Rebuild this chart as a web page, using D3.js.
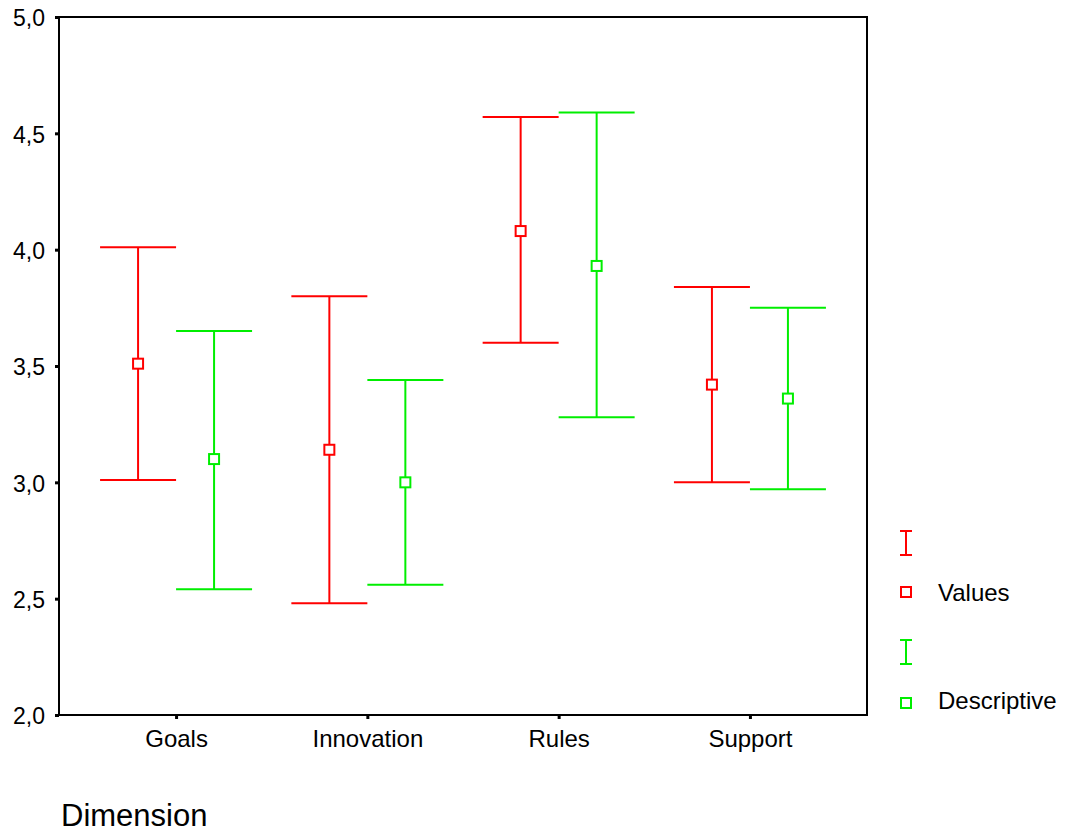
<!DOCTYPE html>
<html>
<head>
<meta charset="utf-8">
<script src="https://cdn.jsdelivr.net/npm/d3@7"></script>
<style>
  body { margin: 0; background: #fff; }
  text { font-family: "Liberation Sans", Arial, sans-serif; fill: #000; }
</style>
</head>
<body>
<svg id="chart" width="1068" height="834"></svg>
<script>
// data
var dimensions = ['Goals', 'Innovation', 'Rules', 'Support'];
var seriesNames = ['Values', 'Descriptive'];
var seriesColors = ['#ff0000', '#00ee00'];
var valuesMean = [3.51, 3.14, 4.08, 3.42];
var valuesLow  = [3.01, 2.48, 3.60, 3.00];
var valuesHigh = [4.01, 3.80, 4.57, 3.84];
var descMean = [3.10, 3.00, 3.93, 3.36];
var descLow  = [2.54, 2.56, 3.28, 2.97];
var descHigh = [3.65, 3.44, 4.59, 3.75];
var yTicks = [2.0, 2.5, 3.0, 3.5, 4.0, 4.5, 5.0];

(function () {
    var left = 59, right = 867, top = 17, bottom = 715;
    var svg = d3.select('#chart');

    var x = d3.scalePoint().domain(dimensions).range([left, right]).padding(0.612);
    var y = d3.scaleLinear().domain([2, 5]).range([bottom, top]);
    var offset = d3.scalePoint().domain(seriesNames).range([-38, 38]);
    var fmt = function (d) { return d3.format('.1f')(d).replace('.', ','); };

    // frame
    svg.append('rect')
        .attr('x', left).attr('y', top)
        .attr('width', right - left).attr('height', bottom - top)
        .attr('fill', 'none').attr('stroke', '#000').attr('stroke-width', 2);

    // axes
    var yAxis = svg.append('g')
        .attr('transform', 'translate(' + left + ',0)')
        .call(d3.axisLeft(y).tickValues(yTicks).tickFormat(fmt).tickSize(4).tickPadding(10));
    var xAxis = svg.append('g')
        .attr('transform', 'translate(0,' + bottom + ')')
        .call(d3.axisBottom(x).tickSize(4).tickPadding(11));
    [yAxis, xAxis].forEach(function (a) {
        a.attr('font-family', null).attr('font-size', null);
        a.select('.domain').remove();
        a.selectAll('line').attr('stroke', '#000').attr('stroke-width', 3);
    });
    yAxis.selectAll('text').style('font-size', '23px').attr('dy', '0.39em');
    xAxis.selectAll('text').style('font-size', '24px');

    var series = [
        { name: seriesNames[0], color: seriesColors[0], mean: valuesMean, low: valuesLow, high: valuesHigh },
        { name: seriesNames[1], color: seriesColors[1], mean: descMean, low: descLow, high: descHigh }
    ];

    series.forEach(function (s) {
        var g = svg.append('g').attr('stroke', s.color).attr('stroke-width', 2).attr('fill', 'none');
        dimensions.forEach(function (d, i) {
            var cx = x(d) + offset(s.name);
            g.append('line').attr('x1', cx).attr('x2', cx).attr('y1', y(s.high[i])).attr('y2', y(s.low[i]));
            g.append('line').attr('x1', cx - 38).attr('x2', cx + 38).attr('y1', y(s.high[i])).attr('y2', y(s.high[i]));
            g.append('line').attr('x1', cx - 38).attr('x2', cx + 38).attr('y1', y(s.low[i])).attr('y2', y(s.low[i]));
            g.append('rect').attr('x', cx - 5).attr('y', y(s.mean[i]) - 5)
                .attr('width', 10).attr('height', 10).attr('fill', '#fff');
        });
    });

    // legend: bar symbol top, square centre and text baseline for each entry
    var legendPos = [
        { bar: 531, box: 592, text: 601 },
        { bar: 640, box: 703, text: 709 }
    ];
    var legend = svg.append('g');
    series.forEach(function (s, i) {
        var p = legendPos[i];
        var lg = legend.append('g').attr('stroke', s.color).attr('stroke-width', 2).attr('fill', 'none');
        lg.append('line').attr('x1', 906).attr('x2', 906).attr('y1', p.bar).attr('y2', p.bar + 24);
        lg.append('line').attr('x1', 900).attr('x2', 912).attr('y1', p.bar).attr('y2', p.bar);
        lg.append('line').attr('x1', 900).attr('x2', 912).attr('y1', p.bar + 24).attr('y2', p.bar + 24);
        lg.append('rect').attr('x', 901).attr('y', p.box - 5).attr('width', 10).attr('height', 10).attr('fill', '#fff');
        legend.append('text').attr('x', 938).attr('y', p.text)
            .style('font-size', '24px').text(s.name);
    });

    svg.append('text').attr('x', 61).attr('y', 826).style('font-size', '31px').text('Dimension');
}());
</script>
</body>
</html>
